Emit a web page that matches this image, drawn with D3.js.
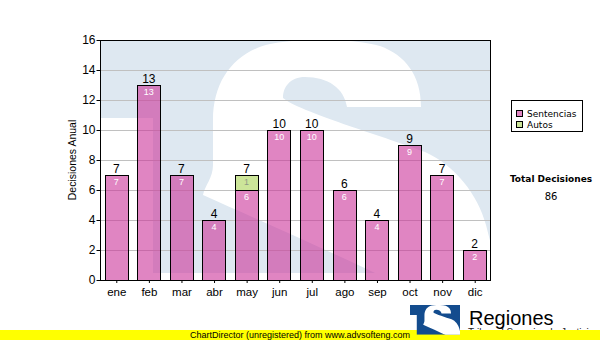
<!DOCTYPE html>
<html>
<head>
<meta charset="utf-8">
<script src="https://cdn.jsdelivr.net/npm/d3@7"></script>
<style>
  html, body { margin: 0; padding: 0; background: #fff; }
  svg { display: block; }
</style>
</head>
<body>
<svg id="chart" width="600" height="340"></svg>
<script>
// ---- data ----
const months = ["ene", "feb", "mar", "abr", "may", "jun", "jul", "ago", "sep", "oct", "nov", "dic"];
const sentencias = [7, 13, 7, 4, 6, 10, 10, 6, 4, 9, 7, 2];
const autos = [0, 0, 0, 0, 1, 0, 0, 0, 0, 0, 0, 0];
const seriesNames = ["Sentencias", "Autos"];
const yTicks = [0, 2, 4, 6, 8, 10, 12, 14, 16];
const yTitle = "Decisiones Anual";
const totalTitle = "Total Decisiones";
const footerText = "ChartDirector (unregistered) from www.advsofteng.com";
const brandName = "Regiones";
const brandSub = "Tribunal Superior de Justicia";

// ---- layout ----
const plot = { left: 100, top: 40, right: 491, bottom: 280 };
const font = "'Liberation Sans', Arial, sans-serif";
const uiFont = "'DejaVu Sans', Verdana, sans-serif";
const colors = { Sentencias: "#cc3399", Autos: "#99cc33" };
const fillOpacity = { Sentencias: 0.6, Autos: 0.5 };

const svg = d3.select("#chart");

const rows = months.map((m, i) => ({ month: m, Sentencias: sentencias[i], Autos: autos[i] }));
const stacked = d3.stack().keys(seriesNames)(rows);
const totals = rows.map(r => r.Sentencias + r.Autos);
const grandTotal = d3.sum(totals);

const x = d3.scaleBand().domain(months).range([plot.left, plot.right])
  .paddingInner(0.28).paddingOuter(0.14);
const y = d3.scaleLinear().domain([0, 16]).range([plot.bottom, plot.top]);

// ---- emblem shape (design box 391 x 233): T block with an S cut out ----
const emblemW = 391, emblemH = 233;
const emblemBase = "M0,0 H391 V233 H53 V78 H0 Z";
const emblemS = "M321,67 L247,67 C244,48 228,37 205,37 C190,37 183,47 183,58 " +
  "C200,72 280,95 325,112 C355,125 378,155 386,185 L395,220 L395,250 L310,250 " +
  "C250,220 170,185 103,155 C105,145 113,138 113,125 L113,80 " +
  "C113,40 135,12 170,4 C200,-2 250,-2 280,6 C305,15 321,35 321,67 Z";

const defs = svg.append("defs");
defs.append("clipPath").attr("id", "plotClip")
  .append("rect").attr("x", plot.left).attr("y", plot.top)
  .attr("width", plot.right - plot.left).attr("height", plot.bottom - plot.top);
defs.append("clipPath").attr("id", "emblemClip")
  .append("rect").attr("x", 0).attr("y", 0).attr("width", emblemW).attr("height", emblemH);

function drawEmblem(parent, tx, ty, k, base, letter) {
  const g = parent.append("g").attr("transform", `translate(${tx},${ty}) scale(${k})`);
  const inner = g.append("g").attr("clip-path", "url(#emblemClip)");
  inner.append("path").attr("d", emblemBase).attr("fill", base);
  inner.append("path").attr("d", emblemS).attr("fill", letter);
  return g;
}

// faded emblem behind the plot
const bgLayer = svg.append("g").attr("clip-path", "url(#plotClip)");
drawEmblem(bgLayer, plot.left, plot.top, 1, "#dee8f1", "#ffffff");

// grid lines
svg.append("g").selectAll("line")
  .data(yTicks.filter(v => v > 0 && v < 16))
  .join("line")
  .attr("x1", plot.left).attr("x2", plot.right)
  .attr("y1", d => y(d)).attr("y2", d => y(d))
  .attr("stroke", "#c0c0c0").attr("stroke-width", 1)
  .attr("shape-rendering", "crispEdges");

// stacked bars
const layers = svg.append("g").selectAll("g")
  .data(stacked)
  .join("g")
  .attr("fill", d => colors[d.key])
  .attr("fill-opacity", d => fillOpacity[d.key]);

layers.selectAll("rect")
  .data(d => d.map((s, i) => ({ s, i, key: d.key })).filter(o => o.s[1] > o.s[0]))
  .join("rect")
  .attr("x", o => Math.round(x(months[o.i])) + 0.5)
  .attr("y", o => Math.round(y(o.s[1])) + 0.5)
  .attr("width", Math.round(x.bandwidth()))
  .attr("height", o => Math.round(y(o.s[0])) - Math.round(y(o.s[1])))
  .attr("stroke", "#000").attr("stroke-opacity", 1).attr("stroke-width", 1);

// values inside each segment
const inner = svg.append("g").attr("font-family", font).attr("font-size", 9)
  .attr("text-anchor", "middle");
stacked.forEach(layer => {
  layer.forEach((s, i) => {
    const v = s[1] - s[0];
    if (v <= 0) return;
    inner.append("text")
      .attr("x", x(months[i]) + x.bandwidth() / 2)
      .attr("y", y(s[1]) + 10)
      .attr("fill", layer.key === "Autos" ? "#8f9a86" : "#ffffff")
      .text(v);
  });
});

// totals above bars
svg.append("g").attr("font-family", font).attr("font-size", 12)
  .attr("text-anchor", "middle").attr("fill", "#000")
  .selectAll("text").data(totals).join("text")
  .attr("x", (d, i) => x(months[i]) + x.bandwidth() / 2)
  .attr("y", d => y(d) - 2.5)
  .text(d => d);

// plot frame
svg.append("rect")
  .attr("x", plot.left + 0.5).attr("y", plot.top + 0.5)
  .attr("width", plot.right - plot.left - 1).attr("height", plot.bottom - plot.top)
  .attr("fill", "none").attr("stroke", "#000").attr("stroke-width", 1);

// y axis
const yAxis = svg.append("g").attr("transform", `translate(${plot.left + 0.5},0)`)
  .call(d3.axisLeft(y).tickValues(yTicks).tickSize(4).tickSizeOuter(0).tickPadding(1)
    .tickFormat(d3.format("d")));
yAxis.select(".domain").remove();
yAxis.selectAll("text").attr("font-family", font).attr("font-size", 12).attr("fill", "#000");
yAxis.selectAll("line").attr("stroke", "#000");

// x axis
const xAxis = svg.append("g").attr("transform", `translate(0.5,${plot.bottom})`)
  .call(d3.axisBottom(x).tickSize(3).tickSizeOuter(0).tickPadding(5));
xAxis.select(".domain").remove();
xAxis.selectAll("text").attr("font-family", font).attr("font-size", 11.5).attr("fill", "#000");
xAxis.selectAll("line").attr("stroke", "#000");

// y title
svg.append("text")
  .attr("transform", "translate(76,160) rotate(-90)")
  .attr("text-anchor", "middle")
  .attr("font-family", font).attr("font-size", 10.5).attr("fill", "#000")
  .text(yTitle);

// legend
const legend = svg.append("g");
legend.append("rect").attr("x", 511.5).attr("y", 100.5).attr("width", 71).attr("height", 31)
  .attr("fill", "#fff").attr("stroke", "#000");
seriesNames.forEach((name, i) => {
  const ly = 110.5 + i * 11;
  legend.append("rect").attr("x", 516.5).attr("y", ly).attr("width", 6).attr("height", 6)
    .attr("fill", colors[name]).attr("fill-opacity", fillOpacity[name]).attr("stroke", "#000");
  legend.append("text").attr("x", 527).attr("y", ly + 6.5)
    .attr("font-family", uiFont).attr("font-size", 9).attr("fill", "#000")
    .text(name);
});

// total box
svg.append("text").attr("x", 551).attr("y", 182).attr("text-anchor", "middle")
  .attr("font-family", uiFont).attr("font-size", 9).attr("font-weight", "bold").attr("fill", "#000")
  .text(totalTitle);
svg.append("text").attr("x", 551).attr("y", 200).attr("text-anchor", "middle")
  .attr("font-family", uiFont).attr("font-size", 10).attr("fill", "#000")
  .text(grandTotal);

// brand block: subtitle sits under the footer strip, only its top peeks out
svg.append("text").attr("x", 468).attr("y", 336)
  .attr("font-family", font).attr("font-size", 10).attr("fill", "#222")
  .text(brandSub);
svg.append("rect").attr("x", 0).attr("y", 330).attr("width", 600).attr("height", 10)
  .attr("fill", "#ffff00");
svg.append("text").attr("x", 190).attr("y", 337.5)
  .attr("font-family", font).attr("font-size", 9).attr("fill", "#000")
  .text(footerText);
drawEmblem(svg, 410, 305, 50 / emblemW, "#134c8e", "#ffffff");
svg.append("text").attr("x", 469).attr("y", 325)
  .attr("font-family", font).attr("font-size", 20).attr("fill", "#000")
  .text(brandName);
</script>
</body>
</html>
